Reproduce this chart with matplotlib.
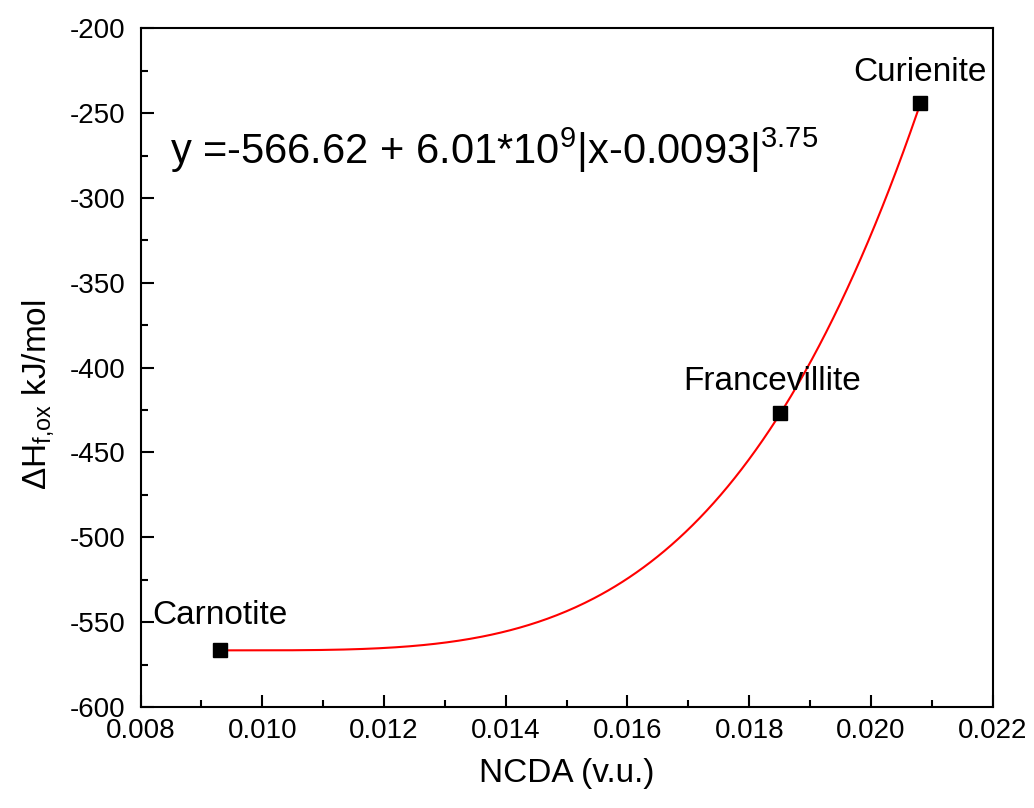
import numpy as np
import matplotlib.pyplot as plt
from matplotlib.ticker import MultipleLocator

plt.rcParams['font.family'] = ['Liberation Sans', 'DejaVu Sans']
plt.rcParams['mathtext.fontset'] = 'custom'
plt.rcParams['mathtext.rm'] = 'Liberation Sans'
plt.rcParams['mathtext.it'] = 'Liberation Sans:italic'
plt.rcParams['mathtext.default'] = 'regular'
plt.rcParams['axes.unicode_minus'] = False

# minerals: NCDA (v.u.) vs enthalpy of formation from oxides (kJ/mol)
minerals = ['Carnotite', 'Francevillite', 'Curienite']
ncda = [0.0093, 0.0185, 0.0208]
dh = [-566.6, -427.0, -244.0]

# fitted curve parameters (shown in the equation)
a, b, x0, p = -566.62, 6.01e9, 0.0093, 3.75

fig = plt.figure(figsize=(10.34, 8.08), dpi=100)
ax = fig.add_axes([0.136, 0.125, 0.824, 0.840])

xs = np.linspace(min(ncda), max(ncda), 300)
ax.plot(xs, a + b * np.abs(xs - x0) ** p, color='red', lw=1.5, zorder=2)
ax.plot(ncda, dh, 's', color='black', markersize=10, zorder=3)

# label positions for each point
lab_x = [0.0093, 0.01837, 0.0208]
lab_y = [-546, -408, -226]
for name, lx, ly in zip(minerals, lab_x, lab_y):
    ax.text(lx, ly, name, fontsize=24, ha='center', va='center')

ax.text(0.00848, -272, 'y =-566.62 + 6.01*10$^{9}$|x-0.0093|$^{3.75}$',
        fontsize=30, ha='left', va='center')

ax.set_xlim(0.008, 0.022)
ax.set_ylim(-600, -200)
ax.xaxis.set_major_locator(MultipleLocator(0.002))
ax.xaxis.set_minor_locator(MultipleLocator(0.001))
ax.yaxis.set_major_locator(MultipleLocator(50))
ax.yaxis.set_minor_locator(MultipleLocator(25))
ax.set_xticklabels([f'{v:.3f}' for v in ax.get_xticks()])
ax.tick_params(which='both', direction='in', top=False, right=False,
               width=1.5, labelsize=20)
ax.tick_params(axis='x', pad=8)
ax.tick_params(axis='y', pad=11)
ax.tick_params(which='major', length=9)
ax.tick_params(which='minor', length=5)
for s in ax.spines.values():
    s.set_linewidth(1.5)

ax.set_xlabel('NCDA (v.u.)', fontsize=24, labelpad=10)
ax.set_ylabel(r'$\Delta H_{f{,}ox}$ kJ/mol', fontsize=24, labelpad=10)
ax.yaxis.label.set_y(0.46)

fig.savefig('out.png', dpi=100)
